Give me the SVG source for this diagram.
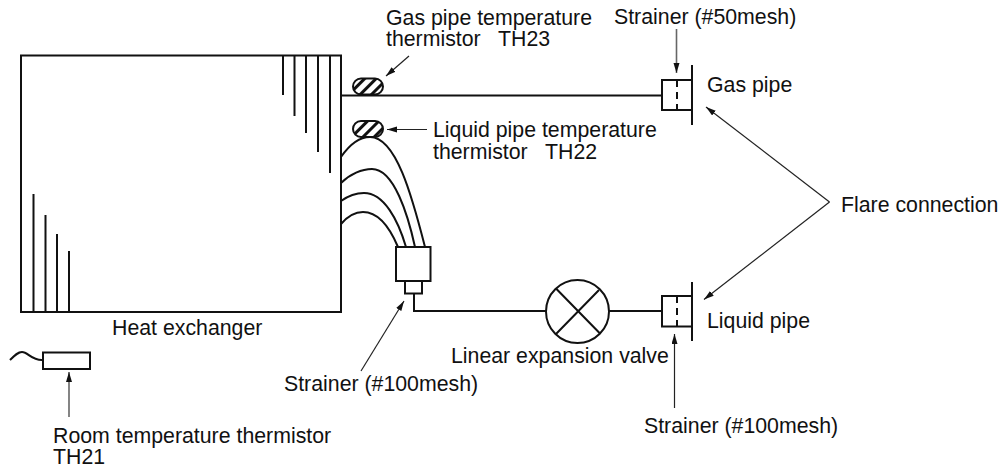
<svg xmlns="http://www.w3.org/2000/svg" width="1002" height="471" viewBox="0 0 1002 471">
<style>
text{font-family:"Liberation Sans",Arial,sans-serif;font-size:21.3px;fill:#111;white-space:pre}
.l{fill:none;stroke:#111;stroke-width:2}
.t{fill:none;stroke:#222;stroke-width:1.2}
.g{fill:none;stroke:#666;stroke-width:1.6}
.d{fill:none;stroke:#111;stroke-width:2;stroke-dasharray:7 5}
.th{fill:url(#hatch);stroke:#111;stroke-width:2}
</style>
<defs>
<marker id="a" markerUnits="userSpaceOnUse" markerWidth="12" markerHeight="8" refX="10" refY="3" orient="auto"><path d="M0 0L10 3L0 6Z" fill="#111"/></marker>
<pattern id="hatch" patternUnits="userSpaceOnUse" width="8" height="8" patternTransform="rotate(45)"><rect width="8" height="8" fill="#fff"/><rect width="3" height="8" fill="#111"/></pattern>
</defs>
<g id="heat-exchanger">
<rect class="l" x="21" y="55.500" width="320" height="256.500"/>
<path class="l" d="M283 55V95M294.500 55V116M306 55V133M318 55V152M330 55V173M33.500 194V312M45.500 215V312M57 234V312M69 251V312"/>
<text x="112" y="335">Heat exchanger</text>
</g>
<g id="room-thermistor">
<path class="l" d="M10 360C15 355 18 352 22 352C28 352 31 360 42 360"/>
<rect class="l" x="43" y="352.500" width="47" height="16.500"/>
<text x="53" y="443">Room temperature thermistor</text>
<text x="53" y="464">TH21</text>
</g>
<g id="gas-thermistor">
<rect class="th" x="353" y="78.500" width="30" height="16" rx="8"/>
<text x="386" y="25">Gas pipe temperature</text>
<text x="386" y="46">thermistor   TH23</text>
</g>
<g id="liquid-thermistor">
<rect class="th" x="353" y="121" width="30" height="16" rx="8"/>
<text x="433" y="137">Liquid pipe temperature</text>
<text x="433" y="159">thermistor   TH22</text>
</g>
<g id="distributor">
<rect class="l" x="396" y="247" width="34.500" height="34"/>
<rect class="l" x="405" y="281" width="17" height="12.500"/>
</g>
<g id="expansion-valve">
<circle class="l" cx="577.500" cy="311.500" r="31.500"/>
<path class="l" d="M556 288.500L600 333.500M599 290L556 334"/>
<text x="451" y="363">Linear expansion valve</text>
</g>
<g id="gas-strainer">
<rect class="l" x="662" y="80" width="30" height="30"/>
<path class="l" d="M692 65V125"/>
<path class="d" d="M677 80V110"/>
<text x="614" y="24">Strainer (#50mesh)</text>
<text x="707" y="92">Gas pipe</text>
</g>
<g id="liquid-strainer">
<rect class="l" x="662" y="296" width="30" height="30.500"/>
<path class="l" d="M692 282V341"/>
<path class="d" d="M677 296V326"/>
<text x="707" y="328">Liquid pipe</text>
<text x="644" y="433">Strainer (#100mesh)</text>
</g>
<g id="labels">
<text x="841" y="212">Flare connection</text>
<text x="284" y="391">Strainer (#100mesh)</text>
</g>
<g id="connectors">
<path class="l" d="M341 95.500H662M414 293V311H546M609 311H662"/>
<path class="l" d="M341 157C350 144 360 137 370 137C396 137 412 196 425 247"/>
<path class="l" d="M341 183C350 174 362 169 372 169C394 169 408 215 415 247"/>
<path class="l" d="M341 201C348 196 356 193 364 193C384 193 398 220 406 247"/>
<path class="l" d="M341 224C347 217 355 212 363 212C378 212 390 228 398 247"/>
<path class="t" marker-end="url(#a)" d="M409 56L386 76"/>
<path class="t" marker-end="url(#a)" d="M427 129.500H387"/>
<path class="g" marker-end="url(#a)" d="M676.500 29V73"/>
<path class="t" marker-end="url(#a)" d="M674.500 408V334"/>
<path class="t" marker-end="url(#a)" d="M361 371L404 301"/>
<path class="g" marker-end="url(#a)" d="M69 417V372"/>
<path class="t" marker-end="url(#a)" d="M829.500 202L706 107"/>
<path class="t" marker-end="url(#a)" d="M829.500 202L704 299.500"/>
</g>
</svg>
